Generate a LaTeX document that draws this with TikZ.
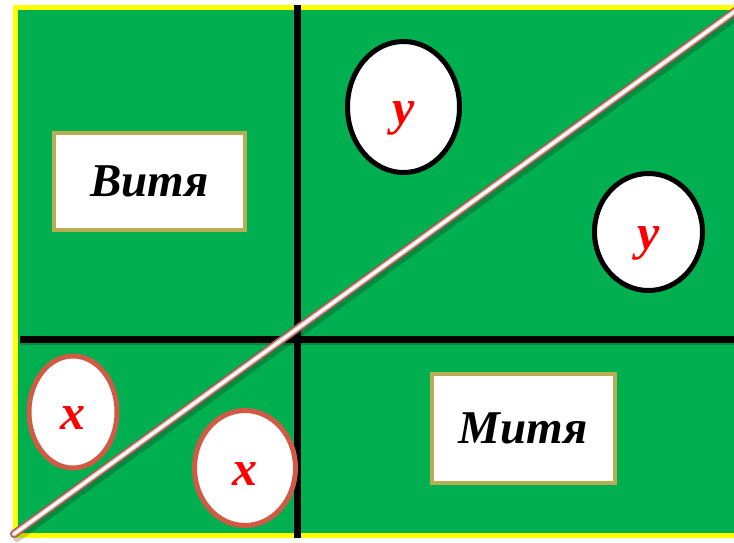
\documentclass[tikz,border=0pt]{standalone}
\usepackage{fontspec}
\setmainfont{Liberation Serif}
\usetikzlibrary{shapes.geometric}

\definecolor{board}{HTML}{00B050}
\definecolor{rim}{HTML}{FFFF00}
\definecolor{frame}{HTML}{B8AD52}
\definecolor{redrim}{HTML}{D05A44}
\definecolor{rodedge}{HTML}{A8584A}

\begin{document}
\begin{tikzpicture}[
        x=1pt,
        y=1pt,
        yscale=-1,
        every node/.style={font=\fontsize{47}{52}\selectfont\bfseries\itshape},
        namebox/.style={draw=frame, line width=4pt, fill=white, inner sep=0pt},
        bubble/.style={ellipse, line width=5pt, fill=white, text=red, inner sep=0pt,
            font=\fontsize{50}{56}\selectfont\bfseries\itshape, text height=35pt, text depth=0pt},
        ybubble/.style={bubble, draw=black},
        xbubble/.style={bubble, draw=redrim},
        axis/.style={line width=7pt}
    ]
    \clip (0,0) rectangle (734,542);

    % board with yellow rim
    \draw[rim, fill=board, line width=5pt] (15.5,7.5) rectangle (760,535.5);

    % the two black axes
    \coordinate (top) at (297,5);
    \coordinate (bottom) at (297,538);
    \coordinate (left) at (20,339);
    \coordinate (right) at (740,339);
    \coordinate (leftshade) at (20,342);
    \coordinate (rightshade) at (740,342);
    \draw[black, opacity=0.2, line width=6pt] (leftshade) -- (rightshade);
    \draw[axis] (top) -- (bottom);
    \draw[axis] (left) -- (right);

    % names
    \node[namebox, minimum width=191pt, minimum height=97pt] (vitya) at (149.5,181.5) {Витя};
    \node[namebox, minimum width=183pt, minimum height=109pt] (mitya) at (523.5,428.5) {Митя};

    % bubbles
    \node[ybubble, minimum width=112pt, minimum height=131pt] (y1) at (403.5,107) {y};
    \node[ybubble, minimum width=108pt, minimum height=117pt] (y2) at (648.5,232) {y};
    \node[xbubble, minimum width=88pt, minimum height=112pt] (x1) at (73,412) {x};
    \node[xbubble, minimum width=101pt, minimum height=115pt] (x2) at (245,468) {x};

    % the rod and its shadow
    \coordinate (rodA) at (14,534);
    \coordinate (rodB) at (745,4);
    \coordinate (shadeA) at (17,538);
    \coordinate (shadeB) at (748,8);
    \draw[black, opacity=0.2, line width=8pt, line cap=round] (shadeA) -- (shadeB);
    \draw[rodedge, line width=8pt, line cap=round] (rodA) -- (rodB);
    \draw[rodedge!40!white, line width=5pt, line cap=round] (rodA) -- (rodB);
    \draw[white, line width=2.5pt, line cap=round] (rodA) -- (rodB);
\end{tikzpicture}
\end{document}
